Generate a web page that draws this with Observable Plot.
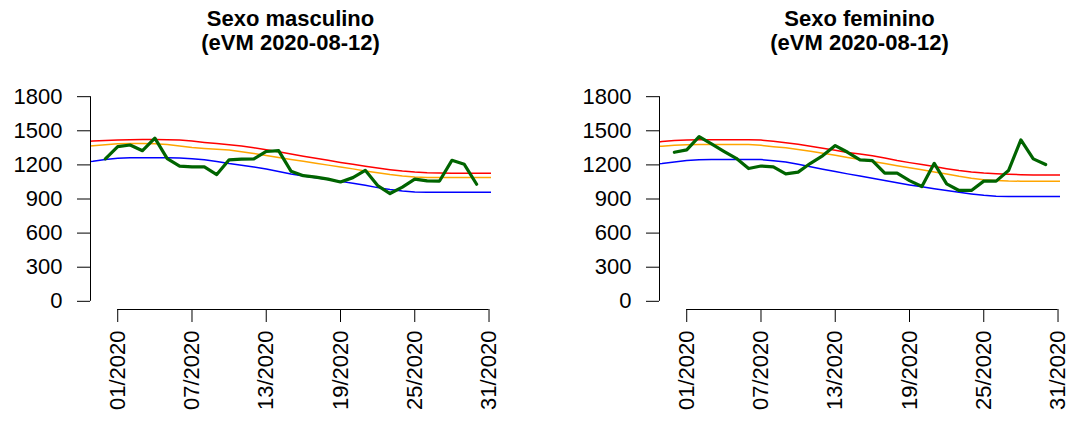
<!DOCTYPE html>
<html><head><meta charset="utf-8">
<script src="https://cdn.jsdelivr.net/npm/d3@7"></script>
<script src="https://cdn.jsdelivr.net/npm/@observablehq/plot@0.6"></script>
<style>
body{margin:0;background:#fff;width:1070px;height:426px;overflow:hidden;font-family:"Liberation Sans",Arial,sans-serif;position:relative;}
.panel{position:absolute;top:0;height:426px;}
.title{position:absolute;top:0;font-weight:bold;font-size:22px;line-height:24px;text-align:center;padding-top:7px;color:#000;white-space:pre;}
.panel svg{position:absolute;top:60px;left:0;}
</style></head><body>
<div id="left" class="panel" style="left:0;width:535px"></div>
<div id="right" class="panel" style="left:569px;width:501px"></div>
<script>
// ---- data ----
const obsWeeks = [0,1,2,3,4,5,6,7,8,9,10,11,12,13,14,15,16,17,18,19,20,21,22,23,24,25,26,27,28,29,30];
const maleObs = [1253,1361,1375,1325,1435,1255,1190,1182,1182,1115,1245,1250,1252,1318,1326,1145,1105,1092,1075,1050,1088,1152,1018,948,1004,1075,1060,1058,1240,1205,1030];
const femaleObs = [1311,1332,1449,1385,1320,1258,1168,1190,1183,1121,1136,1214,1282,1370,1311,1244,1238,1127,1127,1062,1010,1214,1033,975,975,1057,1057,1150,1420,1253,1203];

const bandWeeks = [-2,-1,0,1,2,3,4,5,6,7,8,9,10,11,12,13,14,15,16,17,18,19,20,21,22,23,24,25,26,27,28,29,30,31,32];
const maleUpper = [1405,1410,1415,1420,1422,1423,1423,1422,1418,1410,1398,1388,1378,1366,1350,1333,1315,1296,1277,1258,1240,1222,1205,1188,1172,1158,1146,1137,1131,1128,1127,1127,1127,1127,1127];
const maleMid   = [1360,1368,1378,1385,1388,1388,1387,1380,1366,1353,1345,1338,1330,1316,1300,1283,1265,1248,1232,1215,1198,1182,1165,1147,1130,1115,1103,1094,1090,1089,1089,1089,1089,1089,1089];
const maleLower = [1220,1232,1248,1258,1262,1263,1263,1262,1260,1255,1245,1230,1212,1197,1182,1163,1141,1120,1103,1087,1071,1055,1039,1020,1000,983,970,962,960,960,960,960,960,960,960];
const femaleUpper = [1392,1405,1415,1420,1422,1422,1422,1422,1422,1418,1408,1395,1381,1364,1346,1328,1310,1295,1280,1260,1238,1220,1203,1185,1167,1150,1137,1128,1122,1117,1114,1112,1112,1112,1112];
const femaleMid   = [1358,1365,1372,1378,1380,1380,1380,1380,1380,1372,1360,1350,1336,1320,1302,1285,1266,1248,1230,1212,1193,1175,1157,1138,1120,1100,1083,1070,1062,1058,1057,1057,1057,1057,1057];
const femaleLower = [1205,1213,1225,1238,1245,1247,1247,1247,1247,1247,1237,1225,1205,1183,1162,1142,1121,1102,1082,1063,1043,1024,1007,990,975,960,945,932,924,922,922,922,922,922,922];

const xTickWeeks = [1,7,13,19,25,31];
const xTickLabels = ["01/2020","07/2020","13/2020","19/2020","25/2020","31/2020"];
const yTicks = [0,300,600,900,1200,1500,1800];
const titles = ["Sexo masculino\n(eVM 2020-08-12)", "Sexo feminino\n(eVM 2020-08-12)"];

// ---- drawing ----
function drawPanel(el, width, marginRight, title, obs, upper, mid, lower) {
  const marginLeft = 90, marginTop = 28, marginBottom = 117, height = 366;
  const span = obsWeeks[obsWeeks.length-1] - obsWeeks[0];
  const xDomain = [obsWeeks[0] - 0.04*span, obsWeeks[obsWeeks.length-1] + 0.04*span];
  const ySpan = yTicks[yTicks.length-1] - yTicks[0];
  const yDomain = [yTicks[0] - 0.04*ySpan, yTicks[yTicks.length-1] + 0.04*ySpan];
  const bands = bandWeeks.map((w,i) => ({w, up: upper[i], mid: mid[i], low: lower[i]}));
  const pts = obsWeeks.map((w,i) => ({w, v: obs[i]}));
  const labelOf = new Map(xTickWeeks.map((w,i) => [w, xTickLabels[i]]));

  const t = document.createElement("div");
  t.className = "title";
  t.style.left = marginLeft + "px";
  t.style.width = (width - marginLeft - marginRight) + "px";
  t.textContent = title;
  el.appendChild(t);

  const bandOpts = {x: "w", strokeWidth: 1.5, clip: true};
  const chart = Plot.plot({
    width, height, marginLeft, marginRight, marginTop, marginBottom,
    style: {fontFamily: "'Liberation Sans', Arial, sans-serif", fontSize: "22px", color: "#000", background: "transparent", overflow: "visible"},
    x: {domain: xDomain, axis: null},
    y: {domain: yDomain, axis: null},
    marks: [
      Plot.line(bands, {...bandOpts, y: "up", stroke: "#ff0000"}),
      Plot.line(bands, {...bandOpts, y: "mid", stroke: "#ffa500"}),
      Plot.line(bands, {...bandOpts, y: "low", stroke: "#0000ff"}),
      Plot.line(pts, {x: "w", y: "v", stroke: "#006400", strokeWidth: 3.2}),
      Plot.ruleX([xDomain[0]], {y1: yTicks[0], y2: yTicks[yTicks.length-1], stroke: "#000", strokeWidth: 1}),
      Plot.ruleY([yDomain[0]], {x1: xTickWeeks[0], x2: xTickWeeks[xTickWeeks.length-1], stroke: "#000", strokeWidth: 1}),
      Plot.axisY(yTicks, {anchor: "left", tickSize: 13, tickPadding: 15, fontSize: 22, label: null, tickFormat: d => String(d), stroke: "#000", fill: "#000"}),
      Plot.axisX(xTickWeeks, {anchor: "bottom", tickSize: 13, tickPadding: 8, tickRotate: -90, fontSize: 22, label: null, tickFormat: w => labelOf.get(w), stroke: "#000", fill: "#000"})
    ]
  });
  el.appendChild(chart);
}

drawPanel(document.getElementById("left"), 535, 44, titles[0], maleObs, maleUpper, maleMid, maleLower);
drawPanel(document.getElementById("right"), 501, 10, titles[1], femaleObs, femaleUpper, femaleMid, femaleLower);
</script>
</body></html>
